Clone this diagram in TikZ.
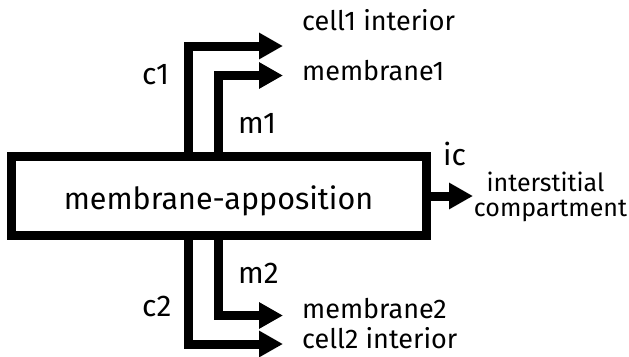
\documentclass[tikz,border=0pt]{standalone}
\usepackage{fontspec}
\setmainfont{Fira Sans}
\usetikzlibrary{arrows.meta}
\begin{document}
\begin{tikzpicture}[x=1pt,y=-1pt,
  conn/.style={line width=9pt,-{Triangle[length=24pt,width=25pt]}},
  lbl/.style={font=\fontsize{30}{30}\selectfont,inner sep=0pt,anchor=base west},
  big/.style={font=\fontsize{30.5}{30.5}\selectfont,inner sep=0pt,anchor=base},
  sml/.style={font=\fontsize{27}{27}\selectfont,inner sep=0pt,anchor=base west},
  ict/.style={font=\fontsize{25}{25}\selectfont,inner sep=0pt,anchor=base}]
\useasboundingbox (0,0) rectangle (629,356);
\draw[line width=9pt] (11.5,156.5) rectangle (426,235);
\node[big] (ma) at (218.5,209) {membrane-apposition};
\coordinate (boxr) at (426,196);
\coordinate (c1s) at (188.5,156.5);
\coordinate (m1s) at (218,156.5);
\coordinate (c2s) at (188.5,235);
\coordinate (m2s) at (218,235);
\coordinate (c1e) at (283,46);
\coordinate (m1e) at (283,75.5);
\coordinate (m2e) at (283,315.5);
\coordinate (c2e) at (283,344);
\coordinate (ice) at (473,196);
\draw[conn] (c1s) |- (c1e);
\draw[conn] (m1s) |- (m1e);
\draw[conn] (c2s) |- (c2e);
\draw[conn] (m2s) |- (m2e);
\draw[conn] (boxr) -- (ice);
\node[sml] (t1) at (302,30) {cell1 interior};
\node[sml] (t2) at (302,80) {membrane1};
\node[sml] (t3) at (302,318) {membrane2};
\node[sml] (t4) at (302,348) {cell2 interior};
\node[ict] (t5) at (545.5,191) {interstitial};
\node[ict] (t6) at (550.5,216) {compartment};
\node[lbl] (lc1) at (142,84) {c1};
\node[lbl] (lc2) at (142,316) {c2};
\node[lbl] (lm1) at (238,133) {m1};
\node[lbl] (lm2) at (238,283) {m2};
\node[lbl] (lic) at (443,165) {ic};
\end{tikzpicture}
\end{document}
